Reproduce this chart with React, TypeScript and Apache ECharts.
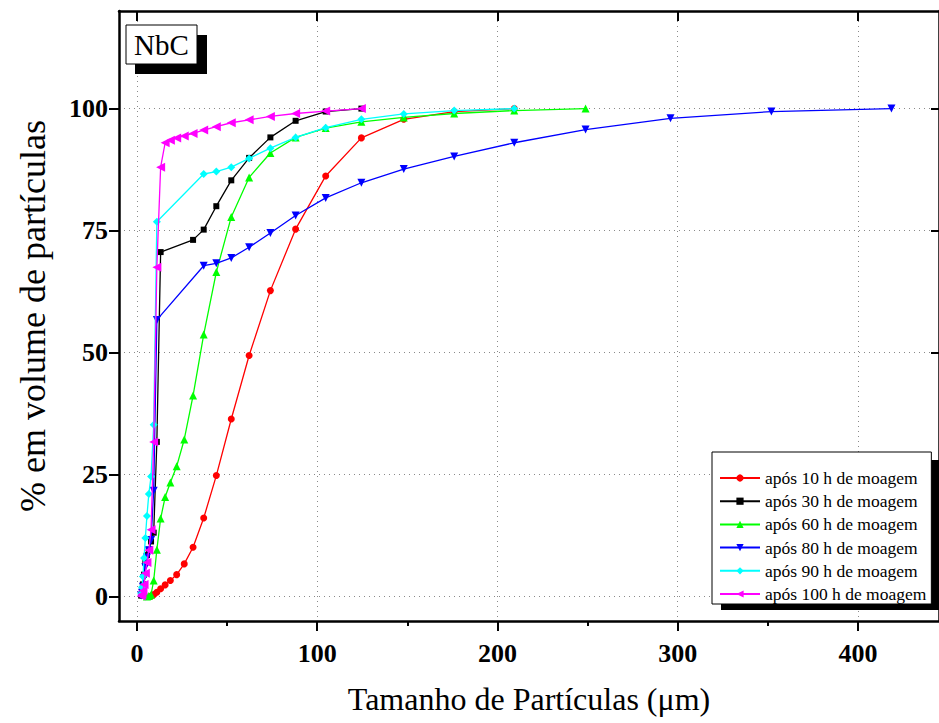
import React, { useEffect, useRef } from "react";
import * as echarts from "echarts";

const FONT = '"Liberation Serif", "Times New Roman", serif';

const seriesNames = [
  "após 10 h de moagem",
  "após 30 h de moagem",
  "após 60 h de moagem",
  "após 80 h de moagem",
  "após 90 h de moagem",
  "após 100 h de moagem",
];

// após 10 h
const x10 = [7.78, 9.25, 11.0, 13.1, 15.6, 18.5, 22.0, 26.2, 31.1, 37.0, 44.0, 52.3, 62.2, 74.0, 88.0, 104.7, 124.5, 148.0, 176.0, 209.3];
const y10 = [0.1, 0.4, 0.9, 1.6, 2.4, 3.3, 4.5, 6.7, 10.1, 16.1, 24.8, 36.4, 49.4, 62.7, 75.3, 86.2, 94.0, 97.8, 99.4, 100];

// após 30 h
const x30 = [2.31, 2.75, 3.27, 3.89, 4.62, 5.5, 6.54, 7.78, 9.25, 11.0, 13.1, 31.1, 37.0, 44.0, 52.3, 62.2, 74.0, 88.0, 104.7, 124.5];
const y30 = [0.2, 1.0, 2.5, 4.5, 7.0, 8.5, 9.6, 11.3, 13.1, 31.7, 70.6, 73.1, 75.2, 80.0, 85.3, 89.9, 94.1, 97.5, 99.4, 100];

// após 60 h
const x60 = [5.5, 6.54, 7.78, 9.25, 11.0, 13.1, 15.6, 18.5, 22.0, 26.2, 31.1, 37.0, 44.0, 52.3, 62.2, 74.0, 88.0, 104.7, 124.5, 148.0, 176.0, 209.3, 248.9];
const y60 = [0, 0.1, 0.4, 3.3, 9.6, 16.0, 20.4, 23.4, 26.7, 32.2, 41.2, 53.7, 66.5, 77.8, 85.9, 90.9, 94.1, 96.0, 97.3, 98.2, 99.0, 99.6, 100];

// após 80 h
const x80 = [2.31, 2.75, 3.27, 3.89, 4.62, 5.5, 6.54, 7.78, 9.25, 11.0, 37.0, 44.0, 52.3, 62.2, 74.0, 88.0, 104.7, 124.5, 148.0, 176.0, 209.3, 248.9, 296.0, 352.0, 418.6];
const y80 = [0.2, 0.8, 2.0, 3.8, 6.0, 8.0, 9.5, 11.6, 21.7, 56.7, 67.8, 68.3, 69.4, 71.6, 74.5, 78.1, 81.7, 84.8, 87.6, 90.2, 93.0, 95.7, 98.0, 99.4, 100];

// após 90 h
const x90 = [2.31, 2.75, 3.27, 3.89, 4.62, 5.5, 6.54, 7.78, 9.25, 11.0, 37.0, 44.0, 52.3, 62.2, 74.0, 88.0, 104.7, 124.5, 148.0, 176.0, 209.3];
const y90 = [0.6, 1.9, 4.1, 7.9, 12.0, 16.5, 21.0, 24.6, 35.2, 76.8, 86.6, 87.1, 88.0, 89.8, 91.9, 94.1, 96.1, 97.8, 98.9, 99.6, 100];

// após 100 h
const x100 = [2.31, 2.75, 3.27, 3.89, 4.62, 5.5, 6.54, 7.78, 9.25, 11.0, 13.1, 15.6, 18.5, 22.0, 26.2, 31.1, 37.0, 44.0, 52.3, 62.2, 74.0, 88.0, 104.7, 124.5];
const y100 = [0.1, 0.5, 1.2, 2.5, 4.8, 7.0, 9.5, 13.7, 31.7, 67.5, 88.0, 93.0, 93.5, 94.0, 94.4, 94.9, 95.6, 96.3, 97.1, 97.7, 98.4, 99.0, 99.5, 100];

const xTicks = [0, 100, 200, 300, 400];
const xMinorTicks = [50, 150, 250, 350];
const yTicks = [0, 25, 50, 75, 100];

const colors = ["#ff0000", "#000000", "#00ff00", "#0000ff", "#00ffff", "#ff00ff"];
const symbols = ["circle", "rect", "triangle", "triangle", "diamond", "triangle"];
const symbolRotates = [0, 0, 0, 180, 0, 90];
const symbolSizes = [7, 6, 8, 8, 8, 9];

const xs = [x10, x30, x60, x80, x90, x100];
const ys = [y10, y30, y60, y80, y90, y100];

export default function App() {
  const ref = useRef<HTMLDivElement>(null);
  useEffect(() => {
    const chart = echarts.init(ref.current as HTMLDivElement, null, { renderer: "svg" });
    const gridLine = { show: true, lineStyle: { color: "#8a8a8a", width: 1, type: [1, 4] } };
    const series = seriesNames.map((name, i) => ({
      name,
      type: "line",
      xAxisIndex: 0,
      yAxisIndex: 0,
      data: xs[i].map((x, j) => [x, ys[i][j]]),
      symbol: symbols[i],
      symbolRotate: symbolRotates[i],
      symbolSize: symbolSizes[i],
      showAllSymbol: true,
      lineStyle: { color: colors[i], width: 1.3 },
      itemStyle: { color: colors[i] },
      z: 2 + i,
    }));
    const option: any = {
      animation: false,
      backgroundColor: "#ffffff",
      grid: { left: 119, top: 11, width: 821, height: 610, containLabel: false },
      xAxis: [
        {
          type: "value",
          position: "bottom",
          min: -10,
          max: 445,
          axisLine: { show: true, onZero: false, lineStyle: { color: "#000", width: 2.5 } },
          axisTick: { show: true, inside: false, length: 10, customValues: xTicks, lineStyle: { color: "#000", width: 2 } },
          minorTick: { show: false },
          axisLabel: { show: true, customValues: xTicks, margin: 19, fontFamily: FONT, fontWeight: "bold", fontSize: 26, color: "#000" },
          splitLine: gridLine,
          name: "Tamanho de Partículas (μm)",
          nameLocation: "middle",
          nameGap: 62,
          nameTextStyle: { fontFamily: FONT, fontSize: 32, color: "#000" },
        },
        {
          type: "value",
          position: "bottom",
          min: -10,
          max: 445,
          axisLine: { show: false, onZero: false },
          axisTick: { show: true, inside: false, length: 5, customValues: xMinorTicks, lineStyle: { color: "#000", width: 2 } },
          axisLabel: { show: false },
          splitLine: { show: false },
        },
        {
          type: "value",
          position: "top",
          min: -10,
          max: 445,
          axisLine: { show: true, onZero: false, lineStyle: { color: "#000", width: 2.5 } },
          axisTick: { show: true, inside: true, length: 10, customValues: xTicks, lineStyle: { color: "#000", width: 2 } },
          axisLabel: { show: false },
          splitLine: { show: false },
        },
      ],
      yAxis: [
        {
          type: "value",
          position: "left",
          min: -5,
          max: 120,
          axisLine: { show: true, onZero: false, lineStyle: { color: "#000", width: 2.5 } },
          axisTick: { show: true, inside: false, length: 10, customValues: yTicks, lineStyle: { color: "#000", width: 2 } },
          axisLabel: { show: true, customValues: yTicks, margin: 11, fontFamily: FONT, fontWeight: "bold", fontSize: 26, color: "#000" },
          splitLine: gridLine,
          name: "% em volume de partículas",
          nameLocation: "middle",
          nameGap: 68,
          nameTextStyle: { fontFamily: FONT, fontSize: 36, color: "#000" },
        },
        {
          type: "value",
          position: "right",
          min: -5,
          max: 120,
          axisLine: { show: true, onZero: false, lineStyle: { color: "#000", width: 2.5 } },
          axisTick: { show: true, inside: true, length: 8, customValues: yTicks, lineStyle: { color: "#000", width: 2 } },
          axisLabel: { show: false },
          splitLine: { show: false },
        },
      ],
      legend: {
        orient: "vertical",
        left: 712,
        top: 452,
        padding: [17, 5, 1, 7],
        itemWidth: 40,
        itemHeight: 9,
        itemGap: 5.2,
        backgroundColor: "#fff",
        borderColor: "#000",
        borderWidth: 1,
        borderRadius: 0,
        z: 10,
        textStyle: { fontFamily: FONT, fontSize: 17.5, color: "#000", lineHeight: 17.5 },
        data: seriesNames,
      },
      graphic: [
        { type: "rect", z: 9, shape: { x: 721, y: 460, width: 222, height: 150 }, style: { fill: "#000" } },
        { type: "rect", z: 9, shape: { x: 135, y: 35, width: 72, height: 39 }, style: { fill: "#000" } },
        { type: "rect", z: 10, shape: { x: 126, y: 25, width: 71, height: 39 }, style: { fill: "#fff", stroke: "#000", lineWidth: 1 } },
        {
          type: "text",
          z: 11,
          x: 161.5,
          y: 45,
          style: { text: "NbC", fontFamily: FONT, fontSize: 29, fill: "#000", align: "center", verticalAlign: "middle" },
        },
      ],
      series,
    };
    chart.setOption(option);
    return () => chart.dispose();
  }, []);
  return (
    <div
      ref={ref}
      style={{ position: "fixed", left: 0, top: 0, width: 939, height: 723, background: "#fff" }}
    />
  );
}
